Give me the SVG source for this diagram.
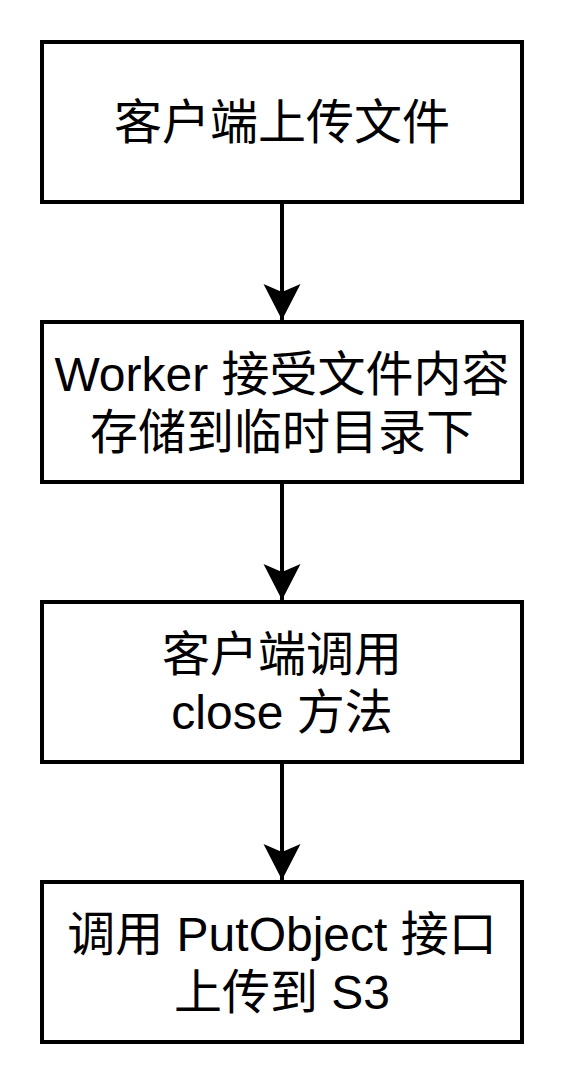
<svg xmlns="http://www.w3.org/2000/svg" width="564" height="1084" viewBox="0 0 564 1084">
<style>
.box{fill:#fff;stroke:#000;stroke-width:4}
.lbl{font-family:"Liberation Sans","Noto Sans CJK SC",sans-serif;font-size:48px;fill:#000;text-anchor:middle}
.edge{stroke:#000;stroke-width:4;fill:none}
</style>
<defs>
<marker id="arr" markerUnits="userSpaceOnUse" markerWidth="40" markerHeight="40" viewBox="0 0 40 40" refX="36" refY="20" orient="auto">
<path d="M0,1.5 L36,20 L0,38.5 L8,20 Z" fill="#000"/>
</marker>
</defs>
<rect width="564" height="1084" fill="#fff"/>
<g id="connectors">
<line class="edge" x1="282" y1="202" x2="282" y2="320" marker-end="url(#arr)"/>
<line class="edge" x1="282" y1="482" x2="282" y2="600" marker-end="url(#arr)"/>
<line class="edge" x1="282" y1="762" x2="282" y2="880" marker-end="url(#arr)"/>
</g>
<g id="node1">
<rect class="box" x="42" y="42" width="480" height="160"/>
<text class="lbl" x="282" y="139">客户端上传文件</text>
</g>
<g id="node2">
<rect class="box" x="42" y="322" width="480" height="160"/>
<text class="lbl" x="282" y="391">Worker 接受文件内容</text>
<text class="lbl" x="282" y="449">存储到临时目录下</text>
</g>
<g id="node3">
<rect class="box" x="42" y="602" width="480" height="160"/>
<text class="lbl" x="282" y="671">客户端调用</text>
<text class="lbl" x="282" y="729">close 方法</text>
</g>
<g id="node4">
<rect class="box" x="42" y="882" width="480" height="160"/>
<text class="lbl" x="282" y="951">调用 PutObject 接口</text>
<text class="lbl" x="282" y="1009">上传到 S3</text>
</g>
</svg>
